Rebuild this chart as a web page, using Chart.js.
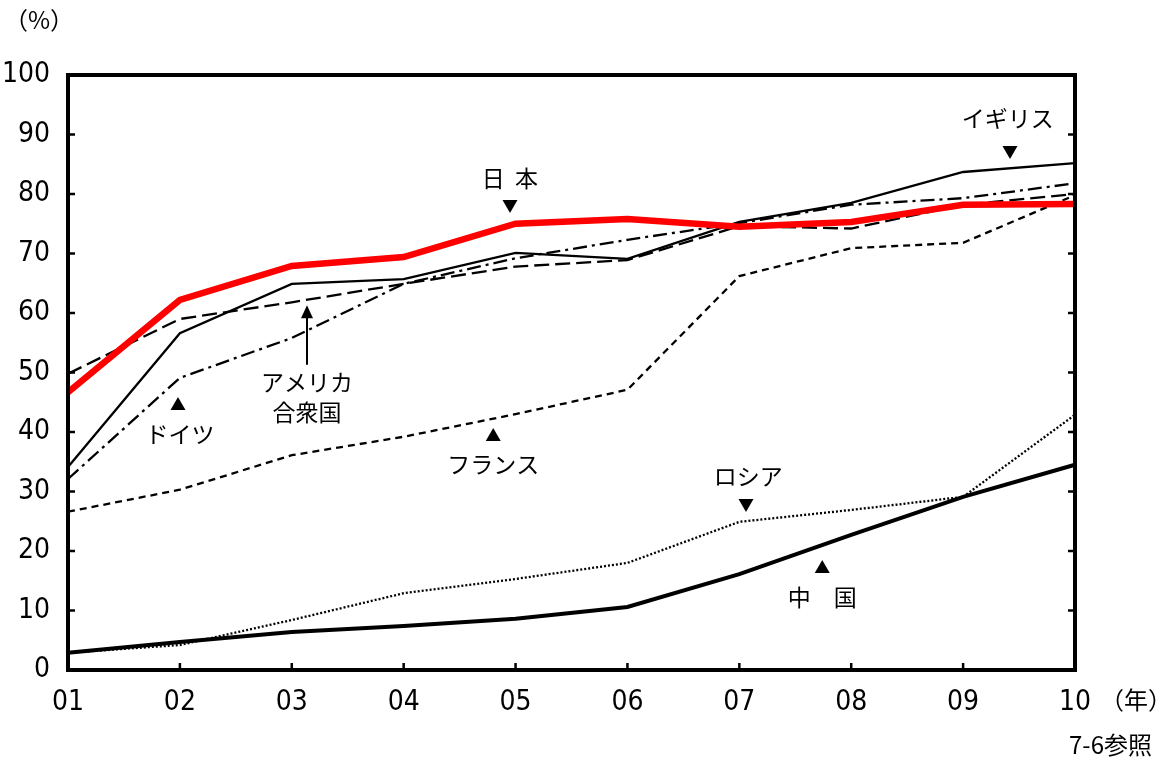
<!DOCTYPE html>
<html>
<head>
<meta charset="utf-8">
<script src="https://cdn.jsdelivr.net/npm/chart.js@4.4.1/dist/chart.umd.min.js"></script>
<style>
  html, body { margin: 0; padding: 0; background: #fff; }
  #wrap { width: 1161px; height: 762px; }
</style>
</head>
<body>
<div id="wrap"><canvas id="chart"></canvas></div>
<script>
// 年 (2001〜2010)
const years = ['01', '02', '03', '04', '05', '06', '07', '08', '09', '10'];
const yTicks = [0, 10, 20, 30, 40, 50, 60, 70, 80, 90, 100];

// 各国の値 (%)
const japan   = [46.7, 62.2, 67.9, 69.4, 75.0, 75.8, 74.5, 75.3, 78.2, 78.3];
const uk      = [34.1, 56.6, 64.9, 65.7, 70.1, 69.1, 75.3, 78.5, 83.7, 85.2];
const germany = [32.1, 49.1, 55.8, 64.9, 69.2, 72.3, 75.1, 78.2, 79.3, 81.8];
const usa     = [49.8, 59.0, 61.8, 64.9, 67.8, 68.9, 74.6, 74.2, 78.2, 80.0];
const france  = [26.6, 30.3, 36.1, 39.2, 43.0, 47.1, 66.2, 70.9, 71.8, 79.8];
const russia  = [2.9, 4.2, 8.4, 12.9, 15.3, 18.0, 24.9, 26.9, 29.1, 42.9];
const china   = [2.9, 4.7, 6.4, 7.4, 8.6, 10.6, 16.1, 22.7, 29.1, 34.5];

const numFont = '"Liberation Sans Narrow", "DejaVu Sans Condensed", sans-serif';
const jpFont = '"Noto Sans CJK JP", sans-serif';

// ラベル (x = 年の位置, y = 値)
const labels = [
    { text: '日  本', x: 3.95, y: 82.7 },
    { text: '▼', x: 3.95, y: 78.0, small: true },
    { text: 'イギリス', x: 8.40, y: 92.8 },
    { text: '▼', x: 8.42, y: 87.1, small: true },
    { text: 'アメリカ', x: 2.136, y: 48.4 },
    { text: '合衆国', x: 2.136, y: 43.4 },
    { text: '▲', x: 0.983, y: 44.7, small: true },
    { text: 'ドイツ', x: 1.0, y: 39.7 },
    { text: '▲', x: 3.80, y: 39.5, small: true },
    { text: 'フランス', x: 3.80, y: 34.5 },
    { text: 'ロシア', x: 6.08, y: 32.6 },
    { text: '▼', x: 6.06, y: 27.7, small: true },
    { text: '▲', x: 6.74, y: 17.3, small: true },
    { text: '中　国', x: 6.74, y: 12.3 }
];

const frame = {
    id: 'frame',
    afterDraw(chart) {
        const ctx = chart.ctx;
        const a = chart.chartArea;
        const xs = chart.scales.x;
        const ys = chart.scales.y;
        ctx.save();
        ctx.strokeStyle = '#000';
        ctx.lineWidth = 2.5;
        // 目盛り
        ctx.beginPath();
        yTicks.forEach((v) => {
            const py = ys.getPixelForValue(v);
            ctx.moveTo(a.left, py); ctx.lineTo(a.left + 7, py);
            ctx.moveTo(a.right, py); ctx.lineTo(a.right - 7, py);
        });
        years.forEach((y, i) => {
            const px = xs.getPixelForValue(i);
            ctx.moveTo(px, a.bottom); ctx.lineTo(px, a.bottom - 7);
        });
        ctx.stroke();
        // 枠
        ctx.lineWidth = 4;
        ctx.strokeRect(a.left, a.top, a.right - a.left, a.bottom - a.top);

        // 矢印 (アメリカ合衆国)
        const ax = xs.getPixelForValue(2.136);
        const y0 = ys.getPixelForValue(51.3);
        const y1 = ys.getPixelForValue(61.3);
        ctx.lineWidth = 2;
        ctx.beginPath();
        ctx.moveTo(ax, y0); ctx.lineTo(ax, y1 + 10);
        ctx.stroke();
        ctx.fillStyle = '#000';
        ctx.beginPath();
        ctx.moveTo(ax, y1); ctx.lineTo(ax - 6, y1 + 13); ctx.lineTo(ax + 6, y1 + 13);
        ctx.closePath();
        ctx.fill();

        // ラベル
        ctx.textAlign = 'center';
        ctx.textBaseline = 'middle';
        labels.forEach((l) => {
            ctx.font = l.small ? '16px ' + jpFont : '23px ' + jpFont;
            ctx.fillText(l.text, xs.getPixelForValue(l.x), ys.getPixelForValue(l.y));
        });

        // 単位など
        ctx.font = '24px ' + jpFont;
        ctx.textAlign = 'left';
        ctx.fillText('（%）', 4, 20);
        ctx.fillText('（年）', 1100, 700);
        ctx.textAlign = 'right';
        ctx.fillText('7-6参照', 1152, 745);
        ctx.restore();
    }
};

const line = (data, color, width, dash) => ({
    data: data,
    borderColor: color,
    borderWidth: width,
    borderDash: dash,
    pointRadius: 0,
    tension: 0,
    fill: false
});

new Chart(document.getElementById('chart'), {
    type: 'line',
    data: {
        labels: years,
        datasets: [
            line(japan, '#ff0000', 6.5, []),
            line(uk, '#000', 2.3, []),
            line(germany, '#000', 2.3, [14, 5, 3, 5]),
            line(usa, '#000', 2.3, [15, 6]),
            line(france, '#000', 2.3, [7, 5]),
            line(russia, '#000', 2.3, [2, 2]),
            line(china, '#000', 4, [])
        ]
    },
    options: {
        responsive: true,
        maintainAspectRatio: false,
        animation: false,
        layout: { padding: { left: 0, right: 86, top: 75, bottom: 0 } },
        plugins: { legend: { display: false }, tooltip: { enabled: false } },
        scales: {
            x: {
                offset: false,
                grid: { display: false, drawTicks: false },
                border: { display: false },
                ticks: { color: '#000', padding: 16, font: { family: numFont, size: 28 }, maxRotation: 0, autoSkip: false },
                afterFit: (s) => { s.height = 92; }
            },
            y: {
                min: 0,
                max: 100,
                grid: { display: false, drawTicks: false },
                border: { display: false },
                ticks: { color: '#000', padding: 18, stepSize: 10, font: { family: numFont, size: 28 } },
                afterFit: (s) => { s.width = 68; }
            }
        }
    },
    plugins: [frame]
});
</script>
</body>
</html>
